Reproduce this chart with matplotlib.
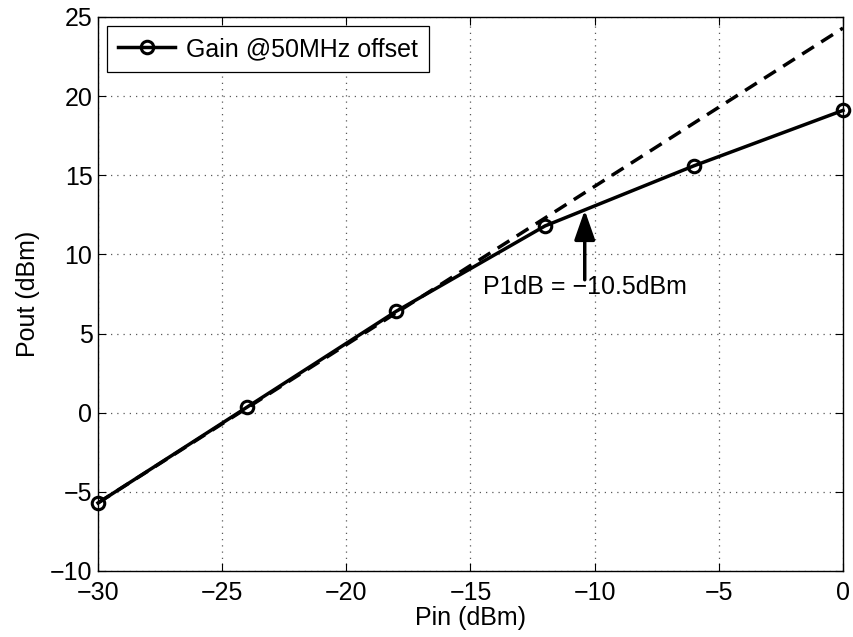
import matplotlib
matplotlib.use("Agg")
import matplotlib.pyplot as plt
import numpy as np

pin = [-30, -24, -18, -12, -6, 0]
pout = [-5.7, 0.35, 6.4, 11.8, 15.6, 19.1]
ideal_x = [-30, 0]
ideal_y = [-5.7, 24.3]
p1db_x = -10.4
arrow_tip_y = 12.8
arrow_base_y = 8.4
label_y = 7.95
xticks = [-30, -25, -20, -15, -10, -5, 0]
yticks = [-10, -5, 0, 5, 10, 15, 20, 25]

plt.rcParams['font.family'] = ['Liberation Sans', 'DejaVu Sans']
plt.rcParams['font.size'] = 18

fig = plt.figure(figsize=(8.54, 6.37), dpi=100)
ax = fig.add_axes([98/854, 1-571/637, (843-98)/854, (571-17)/637])

ax.plot(ideal_x, ideal_y, color='black', lw=2.5, linestyle=(0, (4.0, 2.5)))
ax.plot(pin, pout, color='black', lw=2.5, marker='o', markersize=9,
        markerfacecolor='none', markeredgewidth=2.2, label='Gain @50MHz offset',
        clip_on=False)

ax.annotate('', xy=(p1db_x, arrow_tip_y), xytext=(p1db_x, arrow_base_y),
            arrowprops=dict(arrowstyle='-|>,head_length=1.0,head_width=0.35',
                            color='black', lw=2.5, shrinkA=0, shrinkB=0))
ax.text(p1db_x, label_y, 'P1dB = \u221210.5dBm', ha='center', va='center', fontsize=18)

ax.set_xlim(-30, 0)
ax.set_ylim(-10, 25)
ax.set_xticks(xticks)
ax.set_yticks(yticks)
ax.grid(True, color='0.35', linestyle=(0, (1, 4)), lw=0.9)
ax.tick_params(direction='in', top=True, right=True, length=6, width=0.8)
ax.tick_params(axis='x', pad=7)
ax.tick_params(axis='y', pad=4)
for s in ax.spines.values():
    s.set_linewidth(1.0)

ax.set_xlabel('Pin (dBm)', labelpad=1)
ax.set_ylabel('Pout (dBm)', labelpad=7)

leg = ax.legend(loc='upper left', fancybox=False, framealpha=1, edgecolor='black',
                borderpad=0.45, handlelength=2.3, handletextpad=0.4,
                borderaxespad=0.35)
leg.get_frame().set_linewidth(0.9)

fig.savefig('out.png', dpi=100)
